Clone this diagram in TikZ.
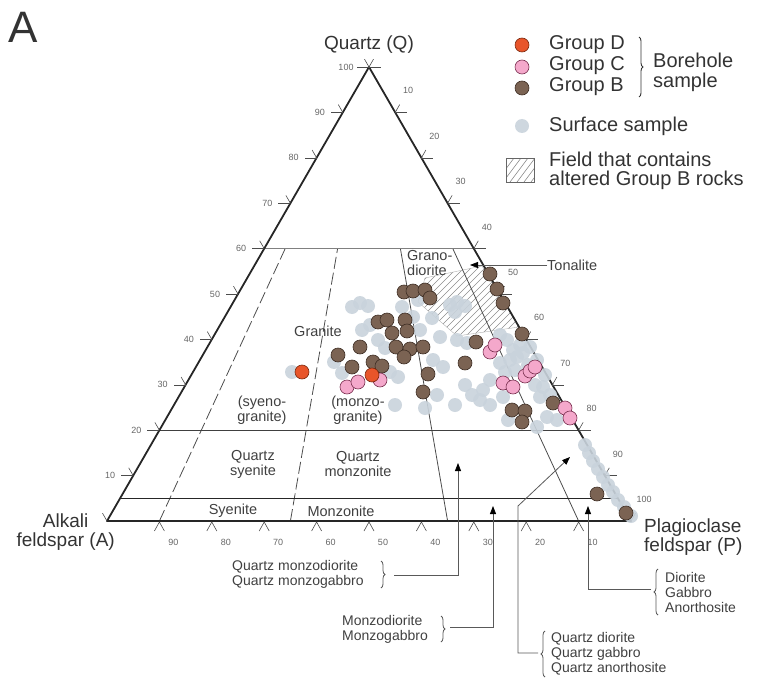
\documentclass[tikz,border=0pt]{standalone}
\usepackage{fontspec}
\setmainfont{Liberation Sans}
\usetikzlibrary{decorations.pathreplacing,arrows.meta}
\definecolor{brn}{HTML}{7B6353}
\definecolor{brnd}{HTML}{3E2E24}
\definecolor{pnk}{HTML}{F4A8CB}
\definecolor{pnkd}{HTML}{7A3050}
\definecolor{org}{HTML}{E8552A}
\definecolor{orgd}{HTML}{7A2A10}
\definecolor{srf}{HTML}{C9D3DC}
\definecolor{txt}{HTML}{333333}
\begin{document}
\begin{tikzpicture}[x=1pt,y=-1pt,
  edge/.style={line width=1.8pt, draw=black!85, line cap=round, line join=round},
  fieldline/.style={line width=0.8pt, draw=black!70},
  dashline/.style={fieldline, dash pattern=on 12pt off 4pt},
  tick/.style={line width=0.6pt, draw=black!70},
  ticklbl/.style={font=\fontsize{9}{9}\selectfont, text=black!60, inner sep=0pt},
  fld/.style={font=\fontsize{14.5}{15}\selectfont, text=black!75, inner sep=0pt, align=center},
  call/.style={font=\fontsize{14}{15}\selectfont, text=black!75, inner sep=0pt, align=left, anchor=west},
  leg/.style={font=\fontsize{20}{22}\selectfont, text=txt, inner sep=0pt, anchor=west},
  axl/.style={font=\fontsize{19}{19}\selectfont, text=txt, inner sep=0pt},
  lead/.style={line width=0.8pt, draw=black!65},
  arr/.style={lead, -{Triangle[length=8pt,width=6pt,color=black]}},
  brc/.style={lead, decorate, decoration={brace, amplitude=4pt}},
  hatchln/.style={line width=0.6pt, draw=black!45},
  ptB/.style={fill=brn, draw=brnd, line width=0.6pt},
  ptC/.style={fill=pnk, draw=pnkd, line width=0.6pt},
  ptD/.style={fill=org, draw=orgd, line width=0.6pt},
  ptS/.style={fill=srf, fill opacity=0.9},
]
\useasboundingbox (0,0) rectangle (760,682);

% vertices
\coordinate (A) at (107,521);
\coordinate (P) at (631,521);
\coordinate (Q) at (369,67);

% hatched field
\begin{scope}
  \clip (425,278) -- (482,266) -- (519,327) -- (457,336) -- (418,302) -- cycle;
  \foreach \i in {0,...,40} {
    \draw[hatchln] (330+\i*7,360) -- ++(110,-110);
  }
\end{scope}
\draw[line width=0.4pt, draw=black!30] (425,278) -- (482,266) -- (519,327) -- (457,336) -- (418,302) -- cycle;

% field boundary lines
\draw[dashline] (159.4,521) -- (285.2,248.6);
\draw[dashline] (290.4,521) -- (337.6,248.6);
\draw[fieldline] (447.6,521) -- (400.4,248.6);
\draw[fieldline] (578.6,521) -- (452.8,248.6);
\draw[line width=0.8pt, draw=black!50] (264.2,248.6) -- (485.8,248.6);
\draw[line width=0.9pt, draw=black!75] (159.4,430.2) -- (590.6,430.2);
\draw[line width=1.1pt, draw=black!85] (120.1,498.3) -- (617.9,498.3);

% triangle
\draw[edge] (A) -- (Q) -- (P) -- cycle;

% left ticks
\foreach \q in {0,...,10} {
  \pgfmathsetmacro\lx{107+26.2*\q}
  \pgfmathsetmacro\ly{521-45.4*\q}
  \draw[tick] (\lx,\ly) -- ++(-4.5,-7.8);
}
\foreach \q in {1,...,10} {
  \pgfmathsetmacro\lx{107+26.2*\q}
  \pgfmathsetmacro\ly{521-45.4*\q}
  \pgfmathtruncatemacro\lab{10*\q}
  \draw[tick] (\lx,\ly) -- ++(-12,0);
  \node[ticklbl] (lt\q) at (\lx-23,\ly) {\lab};
}
% right ticks
\foreach \q in {0,...,10} {
  \pgfmathsetmacro\rx{631-26.2*\q}
  \pgfmathsetmacro\ry{521-45.4*\q}
  \draw[tick] (\rx,\ry) -- ++(4.5,-7.8);
}
\foreach \q in {1,...,10} {
  \pgfmathsetmacro\rx{631-26.2*\q}
  \pgfmathsetmacro\ry{521-45.4*\q}
  \draw[tick] (\rx,\ry) -- ++(12,0);
}
\foreach \q in {0,...,9} {
  \pgfmathsetmacro\rx{631-26.2*\q}
  \pgfmathsetmacro\ry{521-45.4*\q}
  \pgfmathtruncatemacro\lab{100-10*\q}
  \node[ticklbl] (rt\q) at (\rx+13,\ry-21.6) {\lab};
}
% bottom ticks
\foreach \r in {1,...,9} {
  \pgfmathsetmacro\bx{107+52.4*\r}
  \pgfmathtruncatemacro\lab{100-10*\r}
  \draw[tick] (\bx-5,531) -- (\bx,522) -- (\bx+5,531);
  \node[ticklbl] (bt\r) at (\bx+14,542) {\lab};
}

% surface samples
\foreach \x/\y in {292/372, 352/307, 360/303, 368/306, 370/325, 378/340, 342/373, 334/362,
  395/405, 390/372, 398/377, 362/330, 402/307, 413/317, 432/318, 440/337, 457/340, 467/343,
  433/360, 443/367, 450/305, 457/302, 465/306, 455/312,
  507/340, 513/350, 500/363, 510/360, 517/357, 523/353, 530/347, 537/360, 543/387, 490/380,
  483/390, 480/400, 490/405, 503/397, 540/397, 547/417, 537/427, 557/420, 500/335, 520/345,
  528/365, 505/372, 515/370, 545/375, 535/385, 550/395, 437/395, 465/385, 472/395, 455/405,
  425/408, 508/420, 585/445, 589/453, 593/461, 598/469, 603/477, 608/485, 613/492, 618/500,
  624/507, 631/516, 420/330, 385/348, 418/300}
  \fill[ptS] (\x,\y) circle (7);

% Group B
\foreach \x/\y in {404/292, 413/291, 425/290, 430/298,
  378/322, 387/320, 405/320, 392/333, 407/331, 396/347, 410/349, 423/347, 404/357,
  360/347, 338/355, 352/367, 373/362, 382/366,
  476/342, 465/363, 428/374, 423/392, 490/274, 497/289, 503/303, 522/334,
  553/403, 512/410, 525/411, 522/422, 597/494, 626/513}
  \draw[ptB] (\x,\y) circle (7);

% Group C
\foreach \x/\y in {490/352, 495/345, 503/383, 513/387, 525/376, 530/371, 535/367,
  565/408, 570/418, 347/387, 358/382, 380/380}
  \draw[ptC] (\x,\y) circle (7);

% Group D
\foreach \x/\y in {302/372, 372/375}
  \draw[ptD] (\x,\y) circle (7);

% field labels
\node[fld] (granite) at (318,331) {Granite};
\node[fld] (syeno) at (262,410) {(syeno-\\granite)};
\node[fld] (monzo) at (358,410) {(monzo-\\granite)};
\node[fld] (qsy) at (253,464) {Quartz\\syenite};
\node[fld] (qmz) at (358,464) {Quartz\\monzonite};
\node[fld] (sye) at (233,511) {Syenite};
\node[fld] (mzn) at (341,511) {Monzonite};
\node[fld, align=left, anchor=west] (grano) at (407,263) {Grano-\\diorite};
\node[fld, anchor=west] (tonal) at (547,265) {Tonalite};
\coordinate (tonTip) at (470,265);
\draw[arr] (tonal.west) -- (tonTip);

% axis labels
\node[axl] (qlab) at (369,45) {Quartz (Q)};
\node[axl, align=center, anchor=east] (alab) at (115,532) {Alkali\\feldspar (A)};
\node[axl, align=left, anchor=west] (plab) at (644,537) {Plagioclase\\feldspar (P)};
\node[font=\fontsize{44}{44}\selectfont, text=txt, inner sep=0pt] (panel) at (23,27) {A};

% callouts
\node[call] (c1) at (232,574.5) {Quartz monzodiorite\\Quartz monzogabbro};
\draw[brc] (381,561) -- (381,588);
\coordinate (c1s) at (394,575);
\coordinate (c1t) at (458,463);
\draw[arr] (c1s) -| (c1t);

\node[call] (c2) at (342,629) {Monzodiorite\\Monzogabbro};
\draw[brc] (441,616) -- (441,642);
\coordinate (c2s) at (450,627);
\coordinate (c2t) at (493,506);
\draw[arr] (c2s) -| (c2t);

\node[call] (c3) at (551,654) {Quartz diorite\\Quartz gabbro\\Quartz anorthosite};
\draw[brc] (545,677) -- (545,631);
\coordinate (c3s) at (538,653);
\coordinate (c3b) at (518,506);
\coordinate (c3t) at (570,457);
\draw[arr] (c3s) -| (c3b) -- (c3t);

\node[call] (c4) at (665,592) {Diorite\\Gabbro\\Anorthosite};
\draw[brc] (658,615) -- (658,569);
\coordinate (c4s) at (651,589);
\coordinate (c4t) at (588,506);
\draw[arr] (c4s) -| (c4t);

% legend
\draw[ptD] (522,45) circle (7);
\draw[ptC] (522,67) circle (7);
\draw[ptB] (522,88) circle (7);
\fill[ptS] (522,126) circle (7);
\node[leg] (lgD) at (549,45) {Group D};
\node[leg] (lgC) at (549,66) {Group C};
\node[leg] (lgB) at (549,87) {Group B};
\draw[brc, line width=0.9pt, draw=txt] (639,37) -- (639,97);
\node[leg] (lgBh) at (653,60) {Borehole};
\node[leg] (lgBs) at (653,82) {sample};
\node[leg] (lgS) at (549,126) {Surface sample};
\begin{scope}
  \clip (506,158) rectangle (534,182);
  \foreach \i in {0,...,8} {
    \draw[hatchln] (490+\i*7,190) -- ++(30,-40);
  }
\end{scope}
\draw[line width=0.6pt, draw=black!60] (506,158) rectangle (534,182);
\node[leg] (lgF1) at (549,159) {Field that contains};
\node[leg] (lgF2) at (549,180) {altered Group B rocks};
\end{tikzpicture}
\end{document}
